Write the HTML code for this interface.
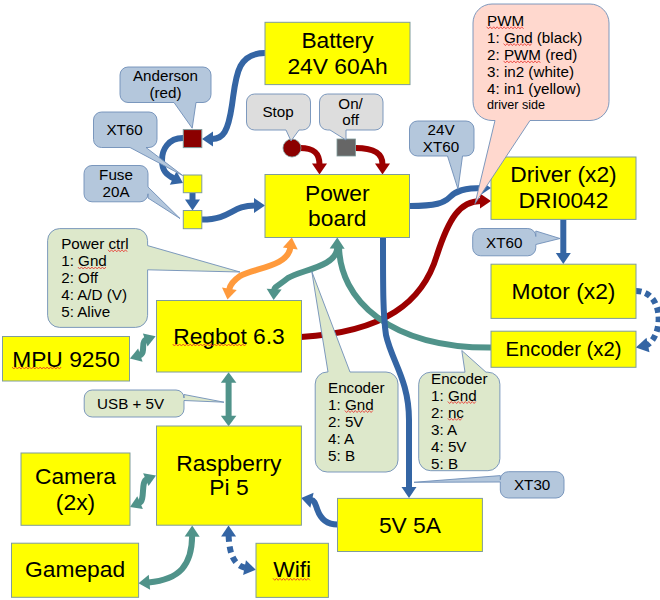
<!DOCTYPE html>
<html><head><meta charset="utf-8"><style>
html,body{margin:0;padding:0;background:#ffffff;}
svg{display:block;font-family:"Liberation Sans", sans-serif;}
</style></head><body>
<svg width="660" height="600" viewBox="0 0 660 600">
<rect width="660" height="600" fill="#ffffff"/>
<path d="M202.00,139.00 L213.00,131.50 L213.00,146.50 Z" fill="#3465a4"/>
<path d="M265.00,53.00 C236.00,53.00 236.00,78.00 232.00,105.00 C228.00,132.00 223.00,139.00 212.00,139.00" fill="none" stroke="#3465a4" stroke-width="6"/>
<path d="M183.00,183.00 L169.81,184.79 L176.52,171.37 Z" fill="#3465a4"/>
<path d="M183.00,138.00 C168.00,138.00 162.00,150.00 162.00,160.00 C162.00,171.00 166.53,174.76 174.06,178.53" fill="none" stroke="#3465a4" stroke-width="6"/>
<path d="M192.50,210.50 L185.00,199.50 L200.00,199.50 Z" fill="#3465a4"/>
<path d="M192.50,193.00 L192.50,200.50" fill="none" stroke="#3465a4" stroke-width="6"/>
<path d="M265.00,205.50 L254.00,213.00 L254.00,198.00 Z" fill="#3465a4"/>
<path d="M202.00,219.50 C232.00,219.50 231.00,205.50 255.00,205.50" fill="none" stroke="#3465a4" stroke-width="6"/>
<path d="M319.50,174.50 L312.00,163.50 L327.00,163.50 Z" fill="#9c0000"/>
<path d="M300.00,148.00 C314.00,148.00 319.50,153.00 319.50,164.50" fill="none" stroke="#9c0000" stroke-width="6"/>
<path d="M382.50,174.50 L375.00,163.50 L390.00,163.50 Z" fill="#9c0000"/>
<path d="M355.50,148.00 C374.00,148.00 382.50,153.00 382.50,164.50" fill="none" stroke="#9c0000" stroke-width="6"/>
<path d="M491.00,188.00 L482.00,194.00 L482.00,182.00 Z" fill="#3465a4"/>
<path d="M410.00,206.00 C436.00,206.00 444.00,203.00 450.00,197.00 C456.00,191.00 464.00,188.00 483.00,188.00" fill="none" stroke="#3465a4" stroke-width="6"/>
<path d="M491.00,201.00 L480.00,208.50 L480.00,193.50 Z" fill="#9c0000"/>
<path d="M301.00,337.00 C385.00,332.00 423.00,302.00 437.00,255.00 C449.00,218.00 460.00,201.00 481.00,201.00" fill="none" stroke="#9c0000" stroke-width="6"/>
<path d="M227.50,299.50 L221.99,287.38 L236.77,289.94 Z" fill="#ff9a3c"/>
<path d="M291.80,237.60 L297.72,249.53 L282.86,247.47 Z" fill="#ff9a3c"/>
<path d="M290.43,247.51 C287.81,266.35 255.00,268.00 240.00,276.00 C230.00,283.00 229.65,287.07 229.21,289.65" fill="none" stroke="#ff9a3c" stroke-width="6"/>
<path d="M273.60,300.00 L266.66,288.64 L281.64,289.39 Z" fill="#50938a"/>
<path d="M337.30,237.60 L344.66,248.69 L329.67,248.51 Z" fill="#50938a"/>
<path d="M337.18,247.60 C336.94,267.00 300.00,270.00 288.00,278.00 C278.00,286.00 274.25,287.01 274.10,290.01" fill="none" stroke="#50938a" stroke-width="6"/>
<path d="M339.00,245.00 C339.00,300.00 390.00,348.00 491.00,347.60" fill="none" stroke="#50938a" stroke-width="6"/>
<path d="M409.00,498.00 L401.50,487.00 L416.50,487.00 Z" fill="#3465a4"/>
<path d="M383.00,238.00 C383.00,290.00 383.00,315.00 386.00,335.00 C392.00,362.00 409.00,380.00 409.00,420.00 C409.00,450.00 409.00,465.00 409.00,488.00" fill="none" stroke="#3465a4" stroke-width="6"/>
<path d="M301.20,497.90 L313.58,492.73 L310.37,507.69 Z" fill="#3465a4"/>
<path d="M337.40,524.50 C325.00,524.50 320.00,517.00 317.50,510.00 C315.00,503.00 314.50,500.50 311.00,500.00" fill="none" stroke="#3465a4" stroke-width="6"/>
<path d="M563.30,264.00 L555.80,253.00 L570.80,253.00 Z" fill="#3465a4"/>
<path d="M563.30,219.40 L563.30,254.00" fill="none" stroke="#3465a4" stroke-width="6"/>
<path d="M635.80,347.50 L646.47,337.65 L649.49,352.35 Z" fill="#3465a4"/>
<path d="M636.00,291.00 C664.00,291.00 664.00,335.00 647.00,345.20" fill="none" stroke="#3465a4" stroke-width="6" stroke-dasharray="5.5,4"/>
<path d="M129.90,358.50 L138.12,348.38 L142.55,361.66 Z" fill="#50938a"/>
<path d="M155.60,336.30 L147.57,346.57 L142.89,333.38 Z" fill="#50938a"/>
<path d="M146.17,339.64 C139.89,341.87 146.64,352.92 139.39,355.34" fill="none" stroke="#50938a" stroke-width="6"/>
<path d="M228.60,426.30 L220.85,415.80 L236.35,415.80 Z" fill="#50938a"/>
<path d="M228.60,372.30 L236.35,382.80 L220.85,382.80 Z" fill="#50938a"/>
<path d="M228.60,381.80 L228.60,416.80" fill="none" stroke="#50938a" stroke-width="6"/>
<path d="M130.00,507.00 L137.28,496.18 L142.88,509.02 Z" fill="#50938a"/>
<path d="M156.00,475.40 L148.55,486.10 L143.15,473.19 Z" fill="#50938a"/>
<path d="M146.77,479.26 C140.39,481.93 145.58,500.20 139.17,503.00" fill="none" stroke="#50938a" stroke-width="6"/>
<path d="M138.50,583.30 L148.78,574.84 L150.13,589.78 Z" fill="#50938a"/>
<path d="M192.20,525.60 L199.64,536.64 L184.64,536.56 Z" fill="#50938a"/>
<path d="M192.14,535.60 C191.97,565.00 179.98,579.55 148.46,582.40" fill="none" stroke="#50938a" stroke-width="6"/>
<path d="M255.80,569.80 L243.09,574.97 L245.95,560.25 Z" fill="#3465a4"/>
<path d="M228.50,525.50 L236.11,536.42 L221.11,536.57 Z" fill="#3465a4"/>
<path d="M228.60,535.50 C229.30,554.00 234.00,565.50 245.50,567.80" fill="none" stroke="#3465a4" stroke-width="6" stroke-dasharray="6,5"/>
<rect x="265" y="22.3" width="145" height="62.3" fill="#ffff00" stroke="#7f9c9c" stroke-width="1"/>
<text x="337.5" y="47.5" font-size="22.8" text-anchor="middle" fill="#000">Battery</text>
<text x="337.5" y="74" font-size="22.8" text-anchor="middle" fill="#000">24V 60Ah</text>
<rect x="265" y="174.5" width="144.5" height="63.0" fill="#ffff00" stroke="#7f9c9c" stroke-width="1"/>
<text x="337.25" y="201" font-size="22.8" text-anchor="middle" fill="#000">Power</text>
<text x="337.25" y="226.2" font-size="22.8" text-anchor="middle" fill="#000">board</text>
<rect x="491" y="157" width="145" height="62.400000000000006" fill="#ffff00" stroke="#7f9c9c" stroke-width="1"/>
<text x="563.5" y="182.4" font-size="22.8" text-anchor="middle" fill="#000">Driver (x2)</text>
<text x="563.5" y="208" font-size="22.8" text-anchor="middle" fill="#000">DRI0042</text>
<rect x="491" y="264.2" width="145" height="54.19999999999999" fill="#ffff00" stroke="#7f9c9c" stroke-width="1"/>
<text x="563.5" y="299" font-size="22.8" text-anchor="middle" fill="#000">Motor (x2)</text>
<rect x="491" y="331.2" width="145" height="36.10000000000002" fill="#ffff00" stroke="#7f9c9c" stroke-width="1"/>
<text x="563.5" y="355.5" font-size="20.3" text-anchor="middle" fill="#000">Encoder (x2)</text>
<rect x="156.5" y="300.5" width="145.0" height="71.5" fill="#ffff00" stroke="#7f9c9c" stroke-width="1"/>
<text x="229.0" y="343.6" font-size="22.8" text-anchor="middle" fill="#000">Regbot 6.3</text>
<rect x="2.5" y="336.5" width="127.0" height="44.5" fill="#ffff00" stroke="#7f9c9c" stroke-width="1"/>
<text x="66.0" y="366.5" font-size="22.8" text-anchor="middle" fill="#000">MPU 9250</text>
<rect x="156.5" y="426" width="144.89999999999998" height="99.20000000000005" fill="#ffff00" stroke="#7f9c9c" stroke-width="1"/>
<text x="228.95" y="470.5" font-size="22.8" text-anchor="middle" fill="#000">Raspberry</text>
<text x="228.95" y="495" font-size="22.8" text-anchor="middle" fill="#000">Pi 5</text>
<rect x="21" y="453" width="109" height="72.29999999999995" fill="#ffff00" stroke="#7f9c9c" stroke-width="1"/>
<text x="75.5" y="484" font-size="22.8" text-anchor="middle" fill="#000">Camera</text>
<text x="75.5" y="510" font-size="22.8" text-anchor="middle" fill="#000">(2x)</text>
<rect x="11.5" y="543.2" width="127.1" height="54.09999999999991" fill="#ffff00" stroke="#7f9c9c" stroke-width="1"/>
<text x="75.05" y="577.3" font-size="22.8" text-anchor="middle" fill="#000">Gamepad</text>
<rect x="256" y="543.3" width="72.39999999999998" height="54.10000000000002" fill="#ffff00" stroke="#7f9c9c" stroke-width="1"/>
<text x="292.2" y="576.8" font-size="22.8" text-anchor="middle" fill="#000">Wifi</text>
<rect x="337.5" y="498.4" width="144.89999999999998" height="53.10000000000002" fill="#ffff00" stroke="#7f9c9c" stroke-width="1"/>
<text x="409.95" y="532.7" font-size="22.8" text-anchor="middle" fill="#000">5V 5A</text>
<rect x="183.3" y="129.6" width="18.5" height="18" fill="#8b0000" stroke="#7f9c9c" stroke-width="1"/>
<rect x="183.3" y="175" width="18.5" height="17.7" fill="#ffff00" stroke="#7f9c9c" stroke-width="1"/>
<rect x="183.3" y="210.5" width="18.5" height="18.2" fill="#ffff00" stroke="#7f9c9c" stroke-width="1"/>
<circle cx="292" cy="148" r="9" fill="#8b0000" stroke="#7f9c9c" stroke-width="0.8"/>
<rect x="337" y="139" width="18.5" height="17" fill="#666666" stroke="#7f9c9c" stroke-width="0.8"/>
<path d="M128,67 L203,67 A8,8 0 0 1 211,75 L211,94.5 A8,8 0 0 1 203,102.5 L196,102.5 L192.2,128.2 L174,102.5 L128,102.5 A8,8 0 0 1 120,94.5 L120,75 A8,8 0 0 1 128,67 Z" fill="#b4c7dc" stroke="#6f8fb8" stroke-width="0.9"/>
<text x="165.5" y="81" font-size="15.2" text-anchor="middle" fill="#000">Anderson</text>
<text x="165.5" y="98" font-size="15.2" text-anchor="middle" fill="#000">(red)</text>
<path d="M101.5,112 L149,112 A8,8 0 0 1 157,120 L157,139.5 A8,8 0 0 1 149,147.5 L146,147.5 L182.7,175.5 L130,147.5 L101.5,147.5 A8,8 0 0 1 93.5,139.5 L93.5,120 A8,8 0 0 1 101.5,112 Z" fill="#b4c7dc" stroke="#6f8fb8" stroke-width="0.9"/>
<text x="124.6" y="135" font-size="15.2" text-anchor="middle" fill="#000">XT60</text>
<path d="M92,165.5 L140,165.5 A8,8 0 0 1 148,173.5 L148,187 L180,218.5 L148,198 L148,193.8 A8,8 0 0 1 140,201.8 L92,201.8 A8,8 0 0 1 84,193.8 L84,173.5 A8,8 0 0 1 92,165.5 Z" fill="#b4c7dc" stroke="#6f8fb8" stroke-width="0.9"/>
<text x="116.0" y="180" font-size="15.2" text-anchor="middle" fill="#000">Fuse</text>
<text x="116.0" y="197.3" font-size="15.2" text-anchor="middle" fill="#000">20A</text>
<path d="M254.5,94 L302.5,94 A8,8 0 0 1 310.5,102 L310.5,122 A8,8 0 0 1 302.5,130 L299,130 L291,141 L286,130 L254.5,130 A8,8 0 0 1 246.5,122 L246.5,102 A8,8 0 0 1 254.5,94 Z" fill="#dddddd" stroke="#6f8fb8" stroke-width="0.9"/>
<text x="278" y="117" font-size="15.2" text-anchor="middle" fill="#000">Stop</text>
<path d="M327.5,94 L375,94 A8,8 0 0 1 383,102 L383,122 A8,8 0 0 1 375,130 L346,130 L346,140 L330,130 L327.5,130 A8,8 0 0 1 319.5,122 L319.5,102 A8,8 0 0 1 327.5,94 Z" fill="#dddddd" stroke="#6f8fb8" stroke-width="0.9"/>
<text x="350.6" y="108.5" font-size="15.2" text-anchor="middle" fill="#000">On/</text>
<text x="350.6" y="124.5" font-size="15.2" text-anchor="middle" fill="#000">off</text>
<path d="M417.5,121 L466,121 A8,8 0 0 1 474,129 L474,148 A8,8 0 0 1 466,156 L462.5,156 L458,189.2 L447.5,156 L417.5,156 A8,8 0 0 1 409.5,148 L409.5,129 A8,8 0 0 1 417.5,121 Z" fill="#b4c7dc" stroke="#6f8fb8" stroke-width="0.9"/>
<text x="441" y="135.1" font-size="15.2" text-anchor="middle" fill="#000">24V</text>
<text x="441" y="151.6" font-size="15.2" text-anchor="middle" fill="#000">XT60</text>
<path d="M492,4 L590,4 A19,19 0 0 1 609,23 L609,101.5 A19,19 0 0 1 590,120.5 L530,120.5 L475,203.6 L495,120.5 L492,120.5 A19,19 0 0 1 473,101.5 L473,23 A19,19 0 0 1 492,4 Z" fill="#ffd8ce" stroke="#6f8fb8" stroke-width="0.9"/>
<text x="487" y="26.4" font-size="15.2" text-anchor="start" fill="#000">PWM</text>
<text x="487" y="43.4" font-size="15.2" text-anchor="start" fill="#000">1: Gnd (black)</text>
<text x="487" y="60.4" font-size="15.2" text-anchor="start" fill="#000">2: PWM (red)</text>
<text x="487" y="77.3" font-size="15.2" text-anchor="start" fill="#000">3: in2 (white)</text>
<text x="487" y="94.3" font-size="15.2" text-anchor="start" fill="#000">4: in1 (yellow)</text>
<text x="487" y="109.2" font-size="12.6" text-anchor="start" fill="#000">driver side</text>
<path d="M480.7,228.5 L527.8,228.5 A8,8 0 0 1 535.8,236.5 L535.8,231 L560,238.5 L535.8,244.5 L535.8,247.8 A8,8 0 0 1 527.8,255.8 L480.7,255.8 A8,8 0 0 1 472.7,247.8 L472.7,236.5 A8,8 0 0 1 480.7,228.5 Z" fill="#b4c7dc" stroke="#6f8fb8" stroke-width="0.9"/>
<text x="504.25" y="247.6" font-size="15.2" text-anchor="middle" fill="#000">XT60</text>
<path d="M59.6,228.6 L135.6,228.6 A12,12 0 0 1 147.6,240.6 L147.6,245.6 L240,272 L147.6,269.8 L147.6,315.4 A12,12 0 0 1 135.6,327.4 L59.6,327.4 A12,12 0 0 1 47.6,315.4 L47.6,240.6 A12,12 0 0 1 59.6,228.6 Z" fill="#dde8cb" stroke="#6f8fb8" stroke-width="0.9"/>
<text x="61.2" y="248.6" font-size="15.2" text-anchor="start" fill="#000">Power ctrl</text>
<text x="61.2" y="265.9" font-size="15.2" text-anchor="start" fill="#000">1: Gnd</text>
<text x="61.2" y="283.2" font-size="15.2" text-anchor="start" fill="#000">2: Off</text>
<text x="61.2" y="300.2" font-size="15.2" text-anchor="start" fill="#000">4: A/D (V)</text>
<text x="61.2" y="317" font-size="15.2" text-anchor="start" fill="#000">5: Alive</text>
<path d="M92.2,390 L176,390 A8,8 0 0 1 184,398 L184,394.5 L224,402.2 L184,400.5 L184,409 A8,8 0 0 1 176,417 L92.2,417 A8,8 0 0 1 84.2,409 L84.2,398 A8,8 0 0 1 92.2,390 Z" fill="#dde8cb" stroke="#6f8fb8" stroke-width="0.9"/>
<text x="130.6" y="408.7" font-size="15.2" text-anchor="middle" fill="#000">USB + 5V</text>
<path d="M327.2,372 L328,372 L311.8,271.5 L350,372 L386,372 A12,12 0 0 1 398,384 L398,460 A12,12 0 0 1 386,472 L327.2,472 A12,12 0 0 1 315.2,460 L315.2,384 A12,12 0 0 1 327.2,372 Z" fill="#dde8cb" stroke="#6f8fb8" stroke-width="0.9"/>
<text x="328" y="393" font-size="15.2" text-anchor="start" fill="#000">Encoder</text>
<text x="328" y="410" font-size="15.2" text-anchor="start" fill="#000">1: Gnd</text>
<text x="328" y="427" font-size="15.2" text-anchor="start" fill="#000">2: 5V</text>
<text x="328" y="444" font-size="15.2" text-anchor="start" fill="#000">4: A</text>
<text x="328" y="461" font-size="15.2" text-anchor="start" fill="#000">5: B</text>
<path d="M430.7,372.2 L465,372.2 L461.8,350.5 L486,372.2 L487.9,372.2 A12,12 0 0 1 499.9,384.2 L499.9,458.7 A12,12 0 0 1 487.9,470.7 L430.7,470.7 A12,12 0 0 1 418.7,458.7 L418.7,384.2 A12,12 0 0 1 430.7,372.2 Z" fill="#dde8cb" stroke="#6f8fb8" stroke-width="0.9"/>
<text x="431" y="384.3" font-size="15.2" text-anchor="start" fill="#000">Encoder</text>
<text x="431" y="401" font-size="15.2" text-anchor="start" fill="#000">1: Gnd</text>
<text x="431" y="418" font-size="15.2" text-anchor="start" fill="#000">2: nc</text>
<text x="431" y="435" font-size="15.2" text-anchor="start" fill="#000">3: A</text>
<text x="431" y="452" font-size="15.2" text-anchor="start" fill="#000">4: 5V</text>
<text x="431" y="469" font-size="15.2" text-anchor="start" fill="#000">5: B</text>
<path d="M508.3,471.7 L556,471.7 A8,8 0 0 1 564,479.7 L564,490 A8,8 0 0 1 556,498 L508.3,498 A8,8 0 0 1 500.3,490 L500.3,482 L414,482.3 L500.3,475.6 L500.3,479.7 A8,8 0 0 1 508.3,471.7 Z" fill="#b4c7dc" stroke="#6f8fb8" stroke-width="0.9"/>
<text x="532.15" y="489.8" font-size="15.2" text-anchor="middle" fill="#000">XT30</text>
<polyline points="486.7,26.8 488.4,28.8 490.2,26.8 491.9,28.8 493.7,26.8 495.4,28.8 497.2,26.8 498.9,28.8 500.7,26.8 502.4,28.8 504.2,26.8 505.9,28.8 507.7,26.8 509.4,28.8 511.2,26.8 513.0,28.8 514.7,26.8 516.5,28.8 518.2,26.8 520.0,28.8 521.7,26.8 523.5,28.8" fill="none" stroke="#e8302a" stroke-width="0.8"/>
<polyline points="503.6,43.6 505.4,45.6 507.1,43.6 508.9,45.6 510.6,43.6 512.4,45.6 514.1,43.6 515.9,45.6 517.6,43.6 519.4,45.6 521.1,43.6 522.9,45.6 524.6,43.6 526.4,45.6 528.1,43.6 529.9,45.6 531.6,43.6" fill="none" stroke="#e8302a" stroke-width="0.8"/>
<polyline points="503.6,60.9 505.4,62.9 507.1,60.9 508.9,62.9 510.6,60.9 512.4,62.9 514.1,60.9 515.9,62.9 517.6,60.9 519.4,62.9 521.1,60.9 522.9,62.9 524.6,60.9 526.4,62.9 528.1,60.9 529.9,62.9 531.6,60.9 533.4,62.9 535.1,60.9 536.9,62.9 538.6,60.9 540.4,62.9" fill="none" stroke="#e8302a" stroke-width="0.8"/>
<polyline points="172.7,344.0 174.4,346.0 176.2,344.0 177.9,346.0 179.7,344.0 181.4,346.0 183.2,344.0 184.9,346.0 186.7,344.0 188.4,346.0 190.2,344.0 191.9,346.0 193.7,344.0 195.4,346.0 197.2,344.0 198.9,346.0 200.7,344.0 202.4,346.0 204.2,344.0 205.9,346.0 207.7,344.0 209.4,346.0 211.2,344.0 212.9,346.0 214.7,344.0 216.4,346.0 218.2,344.0 219.9,346.0 221.7,344.0 223.4,346.0 225.2,344.0 226.9,346.0 228.7,344.0 230.4,346.0 232.2,344.0 233.9,346.0 235.7,344.0 237.4,346.0 239.2,344.0 240.9,346.0 242.7,344.0 244.4,346.0 246.2,344.0" fill="none" stroke="#e8302a" stroke-width="0.8"/>
<polyline points="12.1,367.0 13.8,369.0 15.6,367.0 17.4,369.0 19.1,367.0 20.9,369.0 22.6,367.0 24.4,369.0 26.1,367.0 27.9,369.0 29.6,367.0 31.4,369.0 33.1,367.0 34.9,369.0 36.6,367.0 38.4,369.0 40.1,367.0 41.9,369.0 43.6,367.0 45.4,369.0 47.1,367.0 48.9,369.0 50.6,367.0 52.4,369.0 54.1,367.0 55.9,369.0 57.6,367.0 59.4,369.0 61.1,367.0" fill="none" stroke="#e8302a" stroke-width="0.8"/>
<polyline points="273.0,578.3 274.8,580.3 276.5,578.3 278.2,580.3 280.0,578.3 281.8,580.3 283.5,578.3 285.2,580.3 287.0,578.3 288.8,580.3 290.5,578.3 292.2,580.3 294.0,578.3 295.8,580.3 297.5,578.3 299.2,580.3 301.0,578.3 302.8,580.3 304.5,578.3 306.2,580.3 308.0,578.3 309.8,580.3" fill="none" stroke="#e8302a" stroke-width="0.8"/>
<polyline points="108.0,249.8 109.8,251.8 111.5,249.8 113.2,251.8 115.0,249.8 116.8,251.8 118.5,249.8 120.2,251.8 122.0,249.8 123.8,251.8 125.5,249.8 127.2,251.8" fill="none" stroke="#e8302a" stroke-width="0.8"/>
<polyline points="77.9,267.0 79.7,269.0 81.4,267.0 83.2,269.0 84.9,267.0 86.7,269.0 88.4,267.0 90.2,269.0 91.9,267.0 93.7,269.0 95.4,267.0 97.2,269.0 98.9,267.0 100.7,269.0 102.4,267.0 104.2,269.0 105.9,267.0" fill="none" stroke="#e8302a" stroke-width="0.8"/>
<polyline points="344.8,410.5 346.6,412.5 348.3,410.5 350.1,412.5 351.8,410.5 353.6,412.5 355.3,410.5 357.1,412.5 358.8,410.5 360.6,412.5 362.3,410.5 364.1,412.5 365.8,410.5 367.6,412.5 369.3,410.5 371.1,412.5 372.8,410.5" fill="none" stroke="#e8302a" stroke-width="0.8"/>
<polyline points="447.8,401.5 449.6,403.5 451.3,401.5 453.1,403.5 454.8,401.5 456.6,403.5 458.3,401.5 460.1,403.5 461.8,401.5 463.6,403.5 465.3,401.5 467.1,403.5 468.8,401.5 470.6,403.5 472.3,401.5 474.1,403.5 475.8,401.5" fill="none" stroke="#e8302a" stroke-width="0.8"/>
<polyline points="447.8,418.3 449.6,420.3 451.3,418.3 453.1,420.3 454.8,418.3 456.6,420.3 458.3,418.3 460.1,420.3 461.8,418.3" fill="none" stroke="#e8302a" stroke-width="0.8"/>
</svg></body></html>
